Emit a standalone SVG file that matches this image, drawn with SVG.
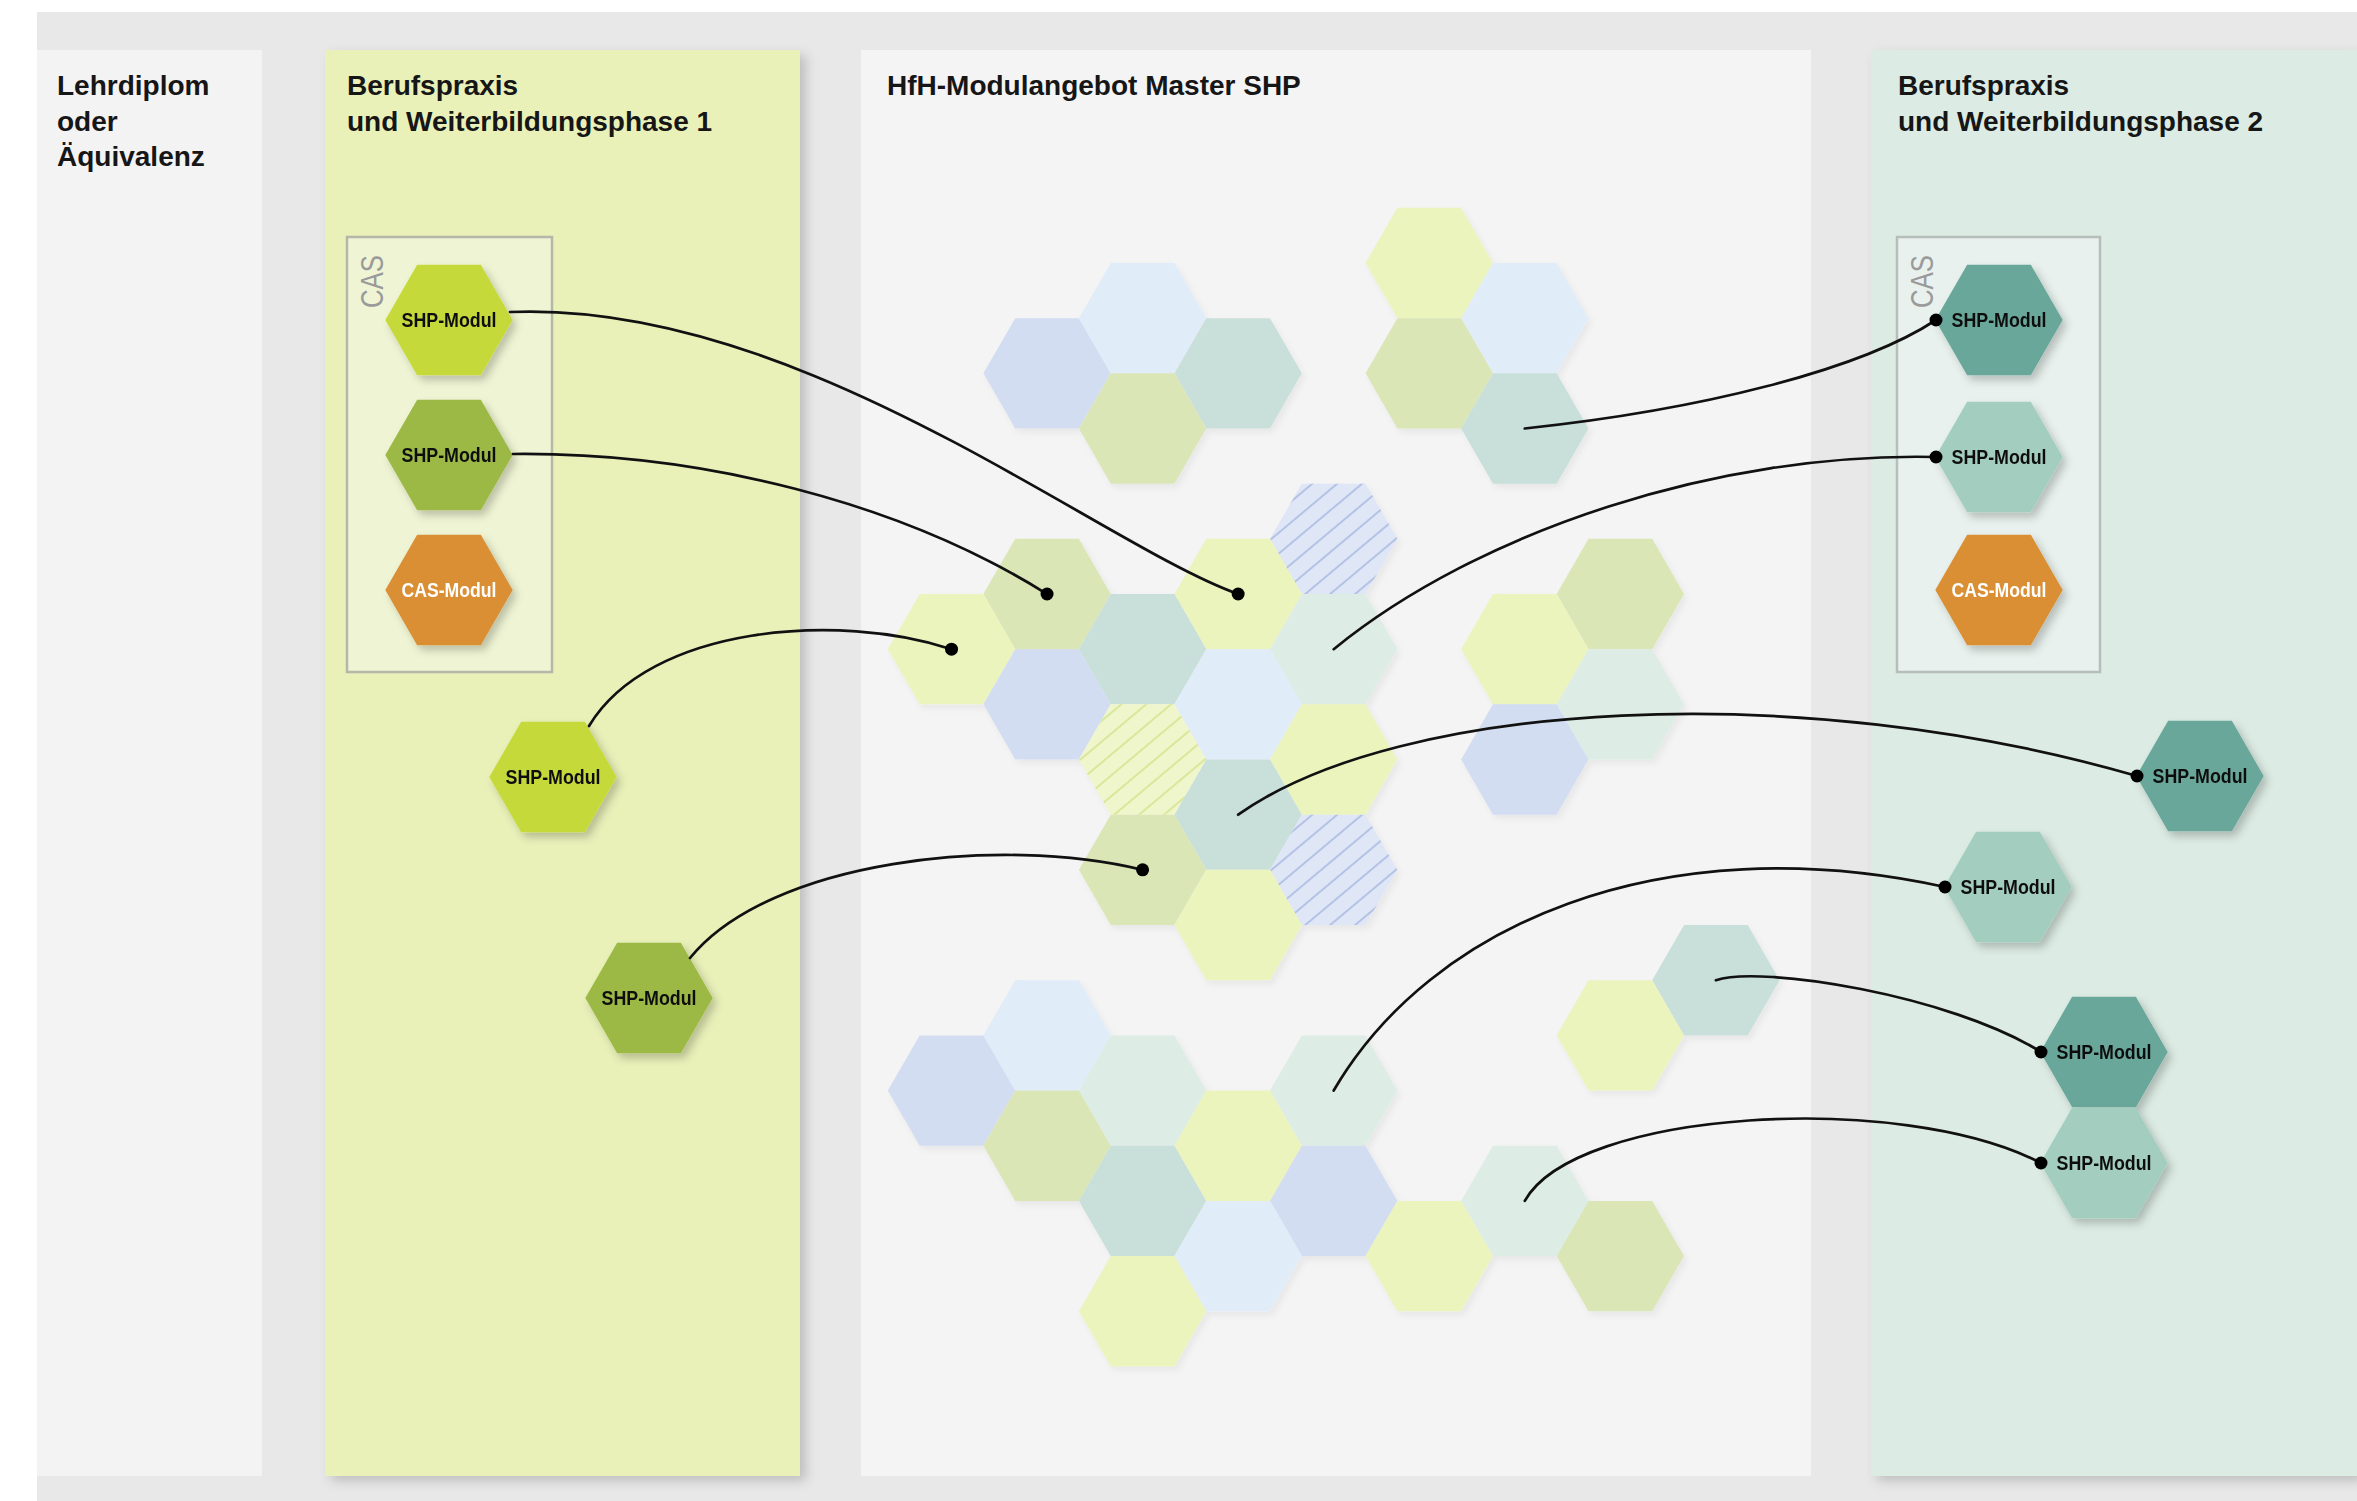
<svg xmlns="http://www.w3.org/2000/svg" xmlns:xlink="http://www.w3.org/1999/xlink" width="2357" height="1501" viewBox="0 0 2357 1501">
<style>
.t{font-family:"Liberation Sans",Arial,Helvetica,sans-serif;font-weight:bold;font-size:28px;fill:#161616}
.m{font-family:"Liberation Sans",Arial,Helvetica,sans-serif;font-weight:bold;font-size:20px;fill:#111;text-anchor:middle}
.w{fill:#ffffff}
.cas{font-family:"Liberation Sans",Arial,Helvetica,sans-serif;font-size:31px;fill:#9a9a9a}
.c{fill:none;stroke:#111;stroke-width:2.7;stroke-linecap:round}
.d{fill:#000}
.y{fill:#ecf4bd}.g{fill:#dbe6b7}.b{fill:#d3ddf1}.lb{fill:#e1ecf9}.tl{fill:#c9dfda}.mt{fill:#ddede6}
.hb{fill:#dfe6f6}.hy{fill:#f0f6cc}
.pale{filter:url(#sp)}
.mod{filter:url(#sm)}
</style>
<defs>
<path id="hx" d="M63.7,0 L31.85,55.17 L-31.85,55.17 L-63.7,0 L-31.85,-55.17 L31.85,-55.17Z"/>
<pattern id="pb" patternUnits="userSpaceOnUse" width="16" height="16" patternTransform="rotate(50)">
<line x1="8" y1="-1" x2="8" y2="17" stroke="#a9bae1" stroke-width="1.6"/>
</pattern>
<pattern id="py" patternUnits="userSpaceOnUse" width="16" height="16" patternTransform="rotate(50)">
<line x1="8" y1="-1" x2="8" y2="17" stroke="#d3e48e" stroke-width="1.6"/>
</pattern>
<filter id="sp" x="-20%" y="-20%" width="150%" height="150%">
<feDropShadow dx="3" dy="4" stdDeviation="3" flood-color="#000" flood-opacity="0.05"/>
</filter>
<filter id="sm" x="-20%" y="-20%" width="150%" height="150%">
<feDropShadow dx="4" dy="5" stdDeviation="4" flood-color="#000" flood-opacity="0.22"/>
</filter>
<filter id="sc" x="-5%" y="-2%" width="115%" height="106%">
<feDropShadow dx="6" dy="5" stdDeviation="6" flood-color="#000" flood-opacity="0.18"/>
</filter>
</defs>

<!-- background -->
<rect x="0" y="0" width="2357" height="1501" fill="#ffffff"/>
<rect x="37" y="12" width="2320" height="1489" fill="#e8e8e8"/>

<!-- columns -->
<g id="col-lehrdiplom">
<rect x="37" y="50" width="225" height="1426" fill="#f3f3f3"/>
<text class="t" x="57" y="95">Lehrdiplom</text>
<text class="t" x="57" y="131">oder</text>
<text class="t" x="57" y="166">Äquivalenz</text>
</g>
<g id="col-phase1">
<rect x="325" y="50" width="475" height="1426" fill="#e9f1b9" filter="url(#sc)"/>
<text class="t" x="347" y="95">Berufspraxis</text>
<text class="t" x="347" y="131">und Weiterbildungsphase 1</text>
</g>
<g id="col-master">
<rect x="861" y="50" width="950" height="1426" fill="#f4f4f4"/>
<text class="t" x="887" y="95">HfH-Modulangebot Master SHP</text>
</g>
<g id="col-phase2">
<rect x="1871" y="50" width="486" height="1426" fill="#dcebe4" filter="url(#sc)"/>
<text class="t" x="1898" y="95">Berufspraxis</text>
<text class="t" x="1898" y="131">und Weiterbildungsphase 2</text>
</g>

<!-- CAS boxes -->
<g id="cas-box-1">
<rect x="347" y="237" width="205" height="435" fill="#eff5d4" stroke="#b5b8a8" stroke-width="2.5"/>
<text class="cas" transform="translate(383,308) rotate(-90)" textLength="53" lengthAdjust="spacingAndGlyphs">CAS</text>
</g>
<g id="cas-box-2">
<rect x="1897" y="237" width="203" height="435" fill="#e8f1ed" stroke="#b7bdba" stroke-width="2.5"/>
<text class="cas" transform="translate(1933,308) rotate(-90)" textLength="53" lengthAdjust="spacingAndGlyphs">CAS</text>
</g>

<!-- central hex field -->
<g id="hexfield" class="pale">
<g id="h-1-2"><use href="#hx" x="1047.05" y="373.34" class="b"/></g>
<g id="h-2-1"><use href="#hx" x="1142.6" y="318.17" class="lb"/></g>
<g id="h-3-2"><use href="#hx" x="1238.15" y="373.34" class="tl"/></g>
<g id="h-2-3"><use href="#hx" x="1142.6" y="428.51" class="g"/></g>

<g id="h-5-0"><use href="#hx" x="1429.25" y="263" class="y"/></g>
<g id="h-6-1"><use href="#hx" x="1524.8" y="318.17" class="lb"/></g>
<g id="h-5-2"><use href="#hx" x="1429.25" y="373.34" class="g"/></g>
<g id="h-6-3"><use href="#hx" x="1524.8" y="428.51" class="tl"/></g>

<g id="h-4-5"><use href="#hx" x="1333.7" y="538.85" class="hb"/><use href="#hx" x="1333.7" y="538.85" fill="url(#pb)"/></g>
<g id="h-1-6"><use href="#hx" x="1047.05" y="594.02" class="g"/></g>
<g id="h-3-6"><use href="#hx" x="1238.15" y="594.02" class="y"/></g>
<g id="h-0-7"><use href="#hx" x="951.5" y="649.19" class="y"/></g>
<g id="h-2-7"><use href="#hx" x="1142.6" y="649.19" class="tl"/></g>
<g id="h-4-7"><use href="#hx" x="1333.7" y="649.19" class="mt"/></g>
<g id="h-1-8"><use href="#hx" x="1047.05" y="704.36" class="b"/></g>
<g id="h-3-8"><use href="#hx" x="1238.15" y="704.36" class="lb"/></g>
<g id="h-2-9"><use href="#hx" x="1142.6" y="759.53" class="hy"/><use href="#hx" x="1142.6" y="759.53" fill="url(#py)"/></g>
<g id="h-4-9"><use href="#hx" x="1333.7" y="759.53" class="y"/></g>
<g id="h-3-10"><use href="#hx" x="1238.15" y="814.7" class="tl"/></g>
<g id="h-2-11"><use href="#hx" x="1142.6" y="869.87" class="g"/></g>
<g id="h-4-11"><use href="#hx" x="1333.7" y="869.87" class="hb"/><use href="#hx" x="1333.7" y="869.87" fill="url(#pb)"/></g>
<g id="h-3-12"><use href="#hx" x="1238.15" y="925.04" class="y"/></g>

<g id="h-7-6"><use href="#hx" x="1620.35" y="594.02" class="g"/></g>
<g id="h-6-7"><use href="#hx" x="1524.8" y="649.19" class="y"/></g>
<g id="h-7-8"><use href="#hx" x="1620.35" y="704.36" class="mt"/></g>
<g id="h-6-9"><use href="#hx" x="1524.8" y="759.53" class="b"/></g>

<g id="h-1-14"><use href="#hx" x="1047.05" y="1035.38" class="lb"/></g>
<g id="h-0-15"><use href="#hx" x="951.5" y="1090.55" class="b"/></g>
<g id="h-2-15"><use href="#hx" x="1142.6" y="1090.55" class="mt"/></g>
<g id="h-4-15"><use href="#hx" x="1333.7" y="1090.55" class="mt"/></g>
<g id="h-1-16"><use href="#hx" x="1047.05" y="1145.72" class="g"/></g>
<g id="h-3-16"><use href="#hx" x="1238.15" y="1145.72" class="y"/></g>
<g id="h-2-17"><use href="#hx" x="1142.6" y="1200.89" class="tl"/></g>
<g id="h-4-17"><use href="#hx" x="1333.7" y="1200.89" class="b"/></g>
<g id="h-6-17"><use href="#hx" x="1524.8" y="1200.89" class="mt"/></g>
<g id="h-3-18"><use href="#hx" x="1238.15" y="1256.06" class="lb"/></g>
<g id="h-5-18"><use href="#hx" x="1429.25" y="1256.06" class="y"/></g>
<g id="h-7-18"><use href="#hx" x="1620.35" y="1256.06" class="g"/></g>
<g id="h-2-19"><use href="#hx" x="1142.6" y="1311.23" class="y"/></g>

<g id="h-8-13"><use href="#hx" x="1715.9" y="980.21" class="tl"/></g>
<g id="h-7-14"><use href="#hx" x="1620.35" y="1035.38" class="y"/></g>
</g>

<!-- phase 1 modules -->
<g id="m1-shp-a" class="mod"><use href="#hx" x="449" y="320" fill="#c6d93b"/><text class="m" x="449" y="327" textLength="95" lengthAdjust="spacingAndGlyphs">SHP-Modul</text></g>
<g id="m1-shp-b" class="mod"><use href="#hx" x="449" y="455" fill="#9db944"/><text class="m" x="449" y="462" textLength="95" lengthAdjust="spacingAndGlyphs">SHP-Modul</text></g>
<g id="m1-cas" class="mod"><use href="#hx" x="449" y="590" fill="#da8f36"/><text class="m w" x="449" y="597" textLength="95" lengthAdjust="spacingAndGlyphs">CAS-Modul</text></g>
<g id="m1-shp-c" class="mod"><use href="#hx" x="553" y="777" fill="#c6d93b"/><text class="m" x="553" y="784" textLength="95" lengthAdjust="spacingAndGlyphs">SHP-Modul</text></g>
<g id="m1-shp-d" class="mod"><use href="#hx" x="649" y="998" fill="#9db944"/><text class="m" x="649" y="1005" textLength="95" lengthAdjust="spacingAndGlyphs">SHP-Modul</text></g>

<!-- phase 2 modules -->
<g id="m2-shp-a" class="mod"><use href="#hx" x="1999" y="320" fill="#69a79b"/><text class="m" x="1999" y="327" textLength="95" lengthAdjust="spacingAndGlyphs">SHP-Modul</text></g>
<g id="m2-shp-b" class="mod"><use href="#hx" x="1999" y="457" fill="#a3cdbf"/><text class="m" x="1999" y="464" textLength="95" lengthAdjust="spacingAndGlyphs">SHP-Modul</text></g>
<g id="m2-cas" class="mod"><use href="#hx" x="1999" y="590" fill="#da8f36"/><text class="m w" x="1999" y="597" textLength="95" lengthAdjust="spacingAndGlyphs">CAS-Modul</text></g>
<g id="m2-shp-c" class="mod"><use href="#hx" x="2200" y="776" fill="#69a79b"/><text class="m" x="2200" y="783" textLength="95" lengthAdjust="spacingAndGlyphs">SHP-Modul</text></g>
<g id="m2-shp-d" class="mod"><use href="#hx" x="2008" y="887" fill="#a3cdbf"/><text class="m" x="2008" y="894" textLength="95" lengthAdjust="spacingAndGlyphs">SHP-Modul</text></g>
<g id="m2-shp-e" class="mod"><use href="#hx" x="2104" y="1052" fill="#69a79b"/><text class="m" x="2104" y="1059" textLength="95" lengthAdjust="spacingAndGlyphs">SHP-Modul</text></g>
<g id="m2-shp-f" class="mod"><use href="#hx" x="2104" y="1163" fill="#a3cdbf"/><text class="m" x="2104" y="1170" textLength="95" lengthAdjust="spacingAndGlyphs">SHP-Modul</text></g>

<!-- connectors -->
<g id="connectors">
<path class="c" d="M510,312 C800,300 1100,545 1238.15,594.02"/>
<path class="c" d="M513,454 C700,452 900,502 1047.05,594.02"/>
<path class="c" d="M589,726 C650,625 840,612 951.5,649.19"/>
<path class="c" d="M690,958 C770,860 1000,835 1142.6,869.87"/>
<path class="c" d="M1524.8,428.51 C1700,410 1860,370 1936,320"/>
<path class="c" d="M1333.7,649.19 C1480,530 1720,452 1936,457"/>
<path class="c" d="M1238.15,814.7 C1400,700 1800,678 2137,776"/>
<path class="c" d="M1333.7,1090.55 C1430,925 1660,825 1945,887"/>
<path class="c" d="M1715.9,980.21 C1760,965 1950,995 2041,1052"/>
<path class="c" d="M1524.8,1200.89 C1575,1110 1900,1090 2041,1163"/>
<circle class="d" cx="1238.15" cy="594.02" r="6.5"/>
<circle class="d" cx="1047.05" cy="594.02" r="6.5"/>
<circle class="d" cx="951.5" cy="649.19" r="6.5"/>
<circle class="d" cx="1142.6" cy="869.87" r="6.5"/>
<circle class="d" cx="1936" cy="320" r="6.5"/>
<circle class="d" cx="1936" cy="457" r="6.5"/>
<circle class="d" cx="2137" cy="776" r="6.5"/>
<circle class="d" cx="1945" cy="887" r="6.5"/>
<circle class="d" cx="2041" cy="1052" r="6.5"/>
<circle class="d" cx="2041" cy="1163" r="6.5"/>
</g>
</svg>
